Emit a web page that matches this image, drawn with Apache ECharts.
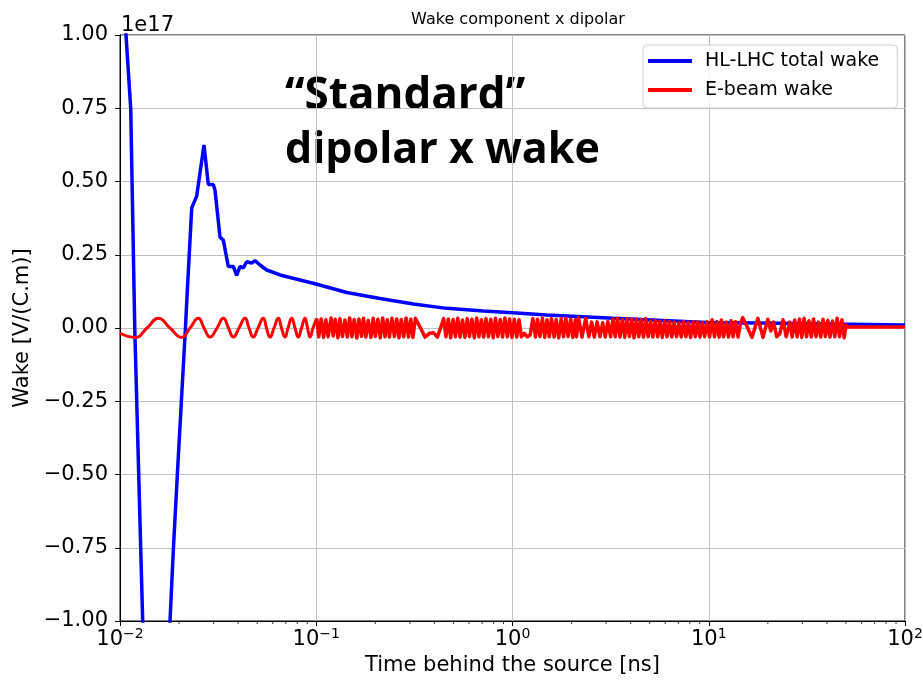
<!DOCTYPE html>
<html>
<head>
<meta charset="utf-8">
<script src="https://cdn.jsdelivr.net/npm/echarts@6/dist/echarts.min.js"></script>
<style>
html,body{margin:0;padding:0;background:#fff;}
#c{width:923px;height:682px;}
</style>
</head>
<body>
<div id="c"></div>
<script>
// ---- Data (values in units of 1e17 V/(C.m), time in ns) ----
var blueT = [0.0100, 0.01073, 0.01134, 0.01189, 0.01305, 0.01357, 0.01543, 0.01798, 0.01872, 0.01960, 0.02055, 0.02155,
  0.02200, 0.02320, 0.02459, 0.02679, 0.02818, 0.02988, 0.03049, 0.03233, 0.03361, 0.03563, 0.03779, 0.03932,
  0.04088, 0.04250, 0.04422, 0.04689, 0.04874, 0.05169, 0.05591, 0.06537, 0.0997, 0.1430, 0.2113, 0.3124,
  0.4622, 0.7100, 1.000, 1.494, 3.263, 9.76, 23.07, 52.45, 100];
var blueV = [1.80, 1.00, 0.75, 0.00, -1.00, -1.50, -1.70, -1.00, -0.75, -0.50, -0.25, 0.00,
  0.12, 0.41, 0.45, 0.625, 0.49, 0.49, 0.47, 0.31, 0.30, 0.21, 0.21, 0.18,
  0.21, 0.205, 0.226, 0.222, 0.23, 0.215, 0.198, 0.181, 0.150, 0.121, 0.101, 0.082,
  0.067, 0.058, 0.052, 0.044, 0.033, 0.019, 0.016, 0.013, 0.010];

// early, slow part of the e-beam wake
var redEarlyT = [0.0100, 0.01193, 0.01373, 0.01568, 0.01798, 0.02063, 0.02274, 0.02506, 0.02680, 0.02875,
  0.03121, 0.03361, 0.03572, 0.03779, 0.04041, 0.04335, 0.04543, 0.04778, 0.05049, 0.05374, 0.05579,
  0.05813, 0.06092, 0.06408, 0.06652, 0.06931, 0.07180, 0.07498, 0.07794, 0.08102, 0.08412, 0.08764,
  0.09025, 0.09294, 0.09626, 0.1005];
var redEarlyV = [-0.018, -0.032, 0.000, 0.033, 0.000, -0.032, 0.000, 0.033, 0.000, -0.031,
  0.000, 0.033, 0.000, -0.031, 0.000, 0.033, 0.000, -0.031, 0.000, 0.033, 0.000,
  -0.031, 0.000, 0.033, 0.000, -0.031, 0.000, 0.033, 0.000, -0.031, 0.000, 0.033,
  0.000, -0.031, 0.000, 0.033];

// dense, aliased part of the e-beam wake
var redT = [0.1005,
  0.103, 0.106, 0.109, 0.112, 0.115, 0.119, 0.122, 0.125, 0.129, 0.132, 0.136, 0.140, 0.144, 0.148,
  0.152, 0.156, 0.161, 0.165, 0.170, 0.174, 0.179, 0.184, 0.190, 0.195, 0.200, 0.206, 0.212, 0.218,
  0.224, 0.230, 0.236, 0.243, 0.250, 0.257, 0.264, 0.271, 0.279, 0.287, 0.295, 0.303, 0.311, 0.320,
  0.340, 0.358, 0.378, 0.396, 0.414, 0.430, 0.446,
  0.458, 0.471, 0.484, 0.498, 0.512, 0.526, 0.541, 0.556, 0.572, 0.588, 0.604, 0.621, 0.639, 0.657,
  0.675, 0.694, 0.713, 0.733, 0.754, 0.775, 0.797, 0.819, 0.842, 0.866, 0.890, 0.915, 0.941, 0.967,
  0.994, 1.022, 1.051, 1.080, 1.11, 1.15, 1.19, 1.23, 1.27,
  1.31, 1.34, 1.38, 1.42, 1.46, 1.50, 1.54, 1.58, 1.63, 1.67, 1.72, 1.77, 1.82, 1.87, 1.92, 1.98,
  2.03, 2.09, 2.12, 2.17, 2.26, 2.36, 2.45, 2.53, 2.61, 2.70, 2.79, 2.88, 2.97, 3.06, 3.16,
  3.25, 3.34, 3.43, 3.53, 3.63, 3.73, 3.83, 3.94, 4.05, 4.16, 4.28, 4.40, 4.52, 4.65, 4.78, 4.91,
  5.05, 5.19, 5.34, 5.49, 5.64, 5.80, 5.96, 6.13, 6.30, 6.48,
  6.66, 6.85, 7.04, 7.24, 7.44, 7.65, 7.86, 8.08, 8.31, 8.54, 8.78, 9.02, 9.27, 9.53, 9.80, 10.1,
  10.4, 10.7, 11.0, 11.3, 11.6, 11.9, 12.3, 12.6, 13.0, 13.3, 13.7, 14.1, 14.5,
  14.9, 15.8, 16.6, 17.8, 18.9, 20.0, 20.7, 21.4, 22.2, 23.0, 23.9, 24.8, 25.9,
  26.6, 27.4, 28.2, 29.0, 29.8, 30.6, 31.5, 32.4, 33.3, 34.2, 35.2, 36.2, 37.2, 38.2, 39.3, 40.4,
  41.5, 42.7, 43.9, 45.1, 46.4, 47.7, 49.0, 50.0, 50.8, 60.0, 100];
var redV = [0.033,
  -0.030, 0.031, -0.032, 0.028, -0.030, 0.034, -0.027, 0.030, -0.033, 0.032, -0.029, 0.027, -0.031, 0.034,
  -0.030, 0.029, -0.034, 0.031, -0.028, 0.033, -0.031, 0.026, -0.032, 0.033, -0.029, 0.030, -0.033, 0.034,
  -0.030, 0.028, -0.031, 0.033, -0.029, 0.031, -0.033, 0.029, -0.030, 0.034, -0.031, 0.030, -0.032, 0.033,
  0.000, -0.031, -0.018, -0.016, -0.031, 0.000, 0.032,
  -0.030, 0.031, -0.033, 0.029, -0.030, 0.033, -0.031, 0.027, -0.032, 0.032, -0.029, 0.030, -0.033, 0.034,
  -0.030, 0.028, -0.031, 0.032, -0.030, 0.030, -0.033, 0.033, -0.029, 0.029, -0.031, 0.034, -0.030, 0.031,
  -0.032, 0.030, -0.031, 0.028, -0.030, -0.018, -0.030, -0.024, 0.032,
  -0.031, 0.030, -0.029, 0.033, -0.032, 0.028, -0.030, 0.032, -0.031, 0.029, -0.033, 0.031, -0.030, 0.033, -0.029, 0.030,
  -0.032, 0.029, -0.030, 0.035, -0.031, 0.032, -0.030, 0.020, -0.031, 0.021, -0.030, 0.018, -0.031, 0.022, -0.030,
  0.031, -0.030, 0.033, -0.031, 0.029, -0.032, 0.032, -0.029, 0.030, -0.033, 0.031, -0.030, 0.028, -0.031, 0.032, -0.030,
  0.024, -0.031, 0.026, -0.030, 0.022, -0.032, 0.025, -0.030, 0.021, -0.031,
  0.020, -0.030, 0.018, -0.031, 0.022, -0.030, 0.019, -0.032, 0.021, -0.030, 0.020, -0.031, 0.018, -0.030, 0.021, -0.031,
  0.028, -0.030, 0.022, -0.031, 0.027, -0.030, 0.020, -0.031, 0.025, -0.030, 0.021, -0.031, 0.015,
  0.035, 0.000, -0.032, 0.033, -0.032, 0.030, -0.010, 0.020, -0.030, -0.020, 0.028, -0.030, 0.020,
  -0.031, 0.027, -0.030, 0.031, -0.032, 0.033, -0.030, 0.025, -0.031, 0.031, -0.030, 0.020, -0.031, 0.030, -0.029, 0.026,
  -0.031, 0.024, -0.030, 0.033, -0.030, 0.028, -0.033, 0.010, 0.003, 0.003, 0.003];

var yTicks = [-1.0, -0.75, -0.5, -0.25, 0, 0.25, 0.5, 0.75, 1.0];
var minorTickT = [0.02, 0.03, 0.04, 0.05, 0.06, 0.07, 0.08, 0.09, 0.2, 0.3, 0.4, 0.5, 0.6, 0.7, 0.8, 0.9,
  2, 3, 4, 5, 6, 7, 8, 9, 20, 30, 40, 50, 60, 70, 80, 90];

function zip(a, b) { return a.map(function (v, i) { return [v, b[i]]; }); }

var FONT = 'DejaVu Sans';
var chart = echarts.init(document.getElementById('c'), null, {renderer: 'canvas'});
chart.setOption({
  animation: false,
  backgroundColor: '#fff',
  title: {
    text: 'Wake component x dipolar',
    left: 513, top: 7, textAlign: 'center',
    textStyle: {fontFamily: FONT, fontSize: 16, fontWeight: 'normal', color: '#000'}
  },
  grid: {left: 120, right: 18, top: 35, bottom: 61, containLabel: false, outerBoundsMode: 'none',
    show: true, borderColor: '#000', borderWidth: 1, backgroundColor: 'transparent'},
  legend: {
    data: ['HL-LHC total wake', 'E-beam wake'],
    orient: 'vertical',
    left: 643, top: 45,
    icon: 'rect', itemWidth: 44, itemHeight: 4, itemGap: 7,
    padding: [5, 18, 7, 5],
    backgroundColor: 'rgba(255,255,255,0.8)',
    borderColor: '#cccccc', borderWidth: 1, borderRadius: 4,
    textStyle: {fontFamily: FONT, fontSize: 19, color: '#000', lineHeight: 22, padding: [0, 0, 0, 8]}
  },
  xAxis: {
    type: 'log', logBase: 10, min: 0.01, max: 100,
    name: 'Time behind the source [ns]', nameLocation: 'middle', nameGap: 31,
    nameTextStyle: {fontFamily: FONT, fontSize: 21, color: '#000'},
    axisLine: {show: true, onZero: false, lineStyle: {color: '#000', width: 1}},
    axisTick: {show: true, inside: false, length: 5, lineStyle: {color: '#000'}},
    axisLabel: {
      margin: 6, hideOverlap: false, showMinLabel: true, showMaxLabel: true,
      formatter: function (v) {
        var e = Math.round(Math.log10(v));
        return '{b|10}{s|' + (e < 0 ? '\u2212' + (-e) : e) + '}';
      },
      rich: {
        b: {fontFamily: FONT, fontSize: 21, color: '#000', lineHeight: 25},
        s: {fontFamily: FONT, fontSize: 14, color: '#000', verticalAlign: 'top', lineHeight: 15}
      }
    },
    splitLine: {show: true, lineStyle: {color: '#c0c0c0', width: 1}}
  },
  yAxis: {
    type: 'value', min: -1, max: 1, interval: 0.25,
    name: 'Wake [V/(C.m)]', nameLocation: 'middle', nameGap: 86, nameRotate: 90,
    nameTextStyle: {fontFamily: FONT, fontSize: 21, color: '#000'},
    axisLine: {show: true, onZero: false, lineStyle: {color: '#000', width: 1}},
    axisTick: {show: true, inside: false, length: 5, lineStyle: {color: '#000'}},
    axisLabel: {
      margin: 12, fontFamily: FONT, fontSize: 21, color: '#000',
      formatter: function (v) { var s = Math.abs(v).toFixed(2); return v < 0 ? '\u2212' + s : s; }
    },
    splitLine: {show: true, lineStyle: {color: '#c0c0c0', width: 1}}
  },
  graphic: [
    {type: 'text', left: 121, top: 15, style: {text: '1e17', fontFamily: FONT, fontSize: 21, fill: '#000'}},
    {type: 'text', x: 285, y: 96, style: {text: '\u201cStandard\u201d', fontFamily: 'Open Sans', fontWeight: 'bold', fontSize: 44, fill: '#000', textVerticalAlign: 'middle'}},
    {type: 'text', x: 285, y: 151, style: {text: 'dipolar x wake', fontFamily: 'Open Sans', fontWeight: 'bold', fontSize: 43, fill: '#000', textVerticalAlign: 'middle'}}
  ],
  series: [
    {
      name: 'minor ticks', type: 'scatter', data: minorTickT.map(function (t) { return [t, -1]; }),
      symbol: 'rect', symbolSize: [1, 3], symbolOffset: [0, 1.5], clip: false, silent: true,
      itemStyle: {color: '#000'}, z: 1
    },
    {
      name: 'HL-LHC total wake', type: 'line', data: zip(blueT, blueV),
      showSymbol: false, symbol: 'none', clip: true,
      lineStyle: {color: '#0000ff', width: 3.5}, itemStyle: {color: '#0000ff'}, z: 3
    },
    {
      name: 'E-beam wake', type: 'line', data: zip(redEarlyT, redEarlyV),
      showSymbol: false, symbol: 'none', smooth: 0.5, clip: true,
      lineStyle: {color: '#ff0000', width: 3}, itemStyle: {color: '#ff0000'}, z: 4
    },
    {
      name: 'E-beam wake', type: 'line', data: zip(redT, redV),
      showSymbol: false, symbol: 'none', clip: true,
      lineStyle: {color: '#ff0000', width: 3.5, join: 'round'}, itemStyle: {color: '#ff0000'}, z: 4
    }
  ]
});
</script>
</body>
</html>
